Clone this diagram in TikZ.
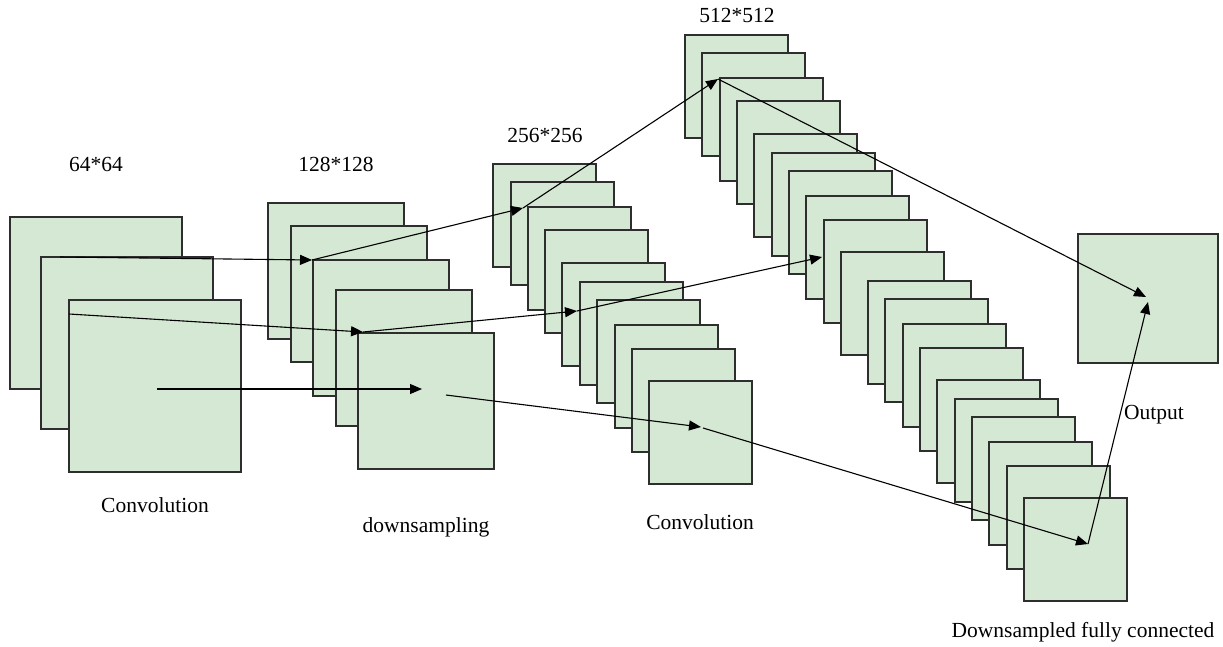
\documentclass[tikz,border=0pt]{standalone}
\usepackage{fontspec}
\setmainfont{Liberation Serif}
\usetikzlibrary{arrows.meta}
\definecolor{mapfill}{HTML}{D5E8D4}
\definecolor{mapline}{HTML}{2E2E2E}
\begin{document}
\begin{tikzpicture}[x=1pt,y=-1pt,
  fmap/.style={draw=mapline,fill=mapfill,line width=1.2pt,anchor=north west,inner sep=0pt,outer sep=0pt},
  bigmap/.style={fmap,minimum width=172pt,minimum height=172pt},
  midmap/.style={fmap,minimum width=136pt,minimum height=136pt},
  smallmap/.style={fmap,minimum width=103pt,minimum height=103pt},
  outmap/.style={fmap,minimum width=140pt,minimum height=129pt},
  conn/.style={line width=1.1pt,-{Triangle[length=12pt,width=10pt]}},
  lbl/.style={font=\fontsize{21.5}{25}\selectfont,anchor=base,inner sep=0pt}]
\useasboundingbox (0,0) rectangle (1223,646);
% column 1
\node[bigmap] (c1a) at (10,217) {};
\node[bigmap] (c1b) at (41,257) {};
\node[bigmap] (c1c) at (69,300) {};
% column 2
\foreach \i/\x/\y in {1/268/203,2/291/226,3/313/260,4/336/290,5/358/333}
  \node[midmap] (c2\i) at (\x,\y) {};
% column 3
\foreach \i/\x/\y in {1/493/164,2/511/182,3/528/207,4/545/230,5/562/263,6/580/282,7/597/300,8/615/325,9/632/349,10/649/381}
  \node[smallmap] (c3n\i) at (\x,\y) {};
% column 4
\foreach \i/\x/\y in {1/685/35,2/702/53,3/720/78,4/737/101,5/754/134,6/772/153,7/789/171,8/806/196,9/824/220,10/841/252,11/868/281,12/885/299,13/903/324,14/920/348,15/937/380,16/955/399,17/972/417,18/989/442,19/1007/466,20/1024/498}
  \node[smallmap] (c4n\i) at (\x,\y) {};
% output
\node[outmap] (out) at (1078,234) {};
% labels
\node[lbl] (l64) at (96,171) {64*64};
\node[lbl] (l128) at (336,171) {128*128};
\node[lbl] (l256) at (545,142) {256*256};
\node[lbl] (l512) at (737,22) {512*512};
\node[lbl] (lconv1) at (155,512) {Convolution};
\node[lbl] (ldown) at (426,532) {downsampling};
\node[lbl] (lconv2) at (700,529) {Convolution};
\node[lbl] (lout) at (1154,419) {Output};
\node[lbl] (ldfc) at (1083,637) {Downsampled fully connected};
% arrow points
\coordinate (a0) at (60,257);
\coordinate (a1) at (312,260);
\coordinate (a2) at (523,208);
\coordinate (a3) at (718,79);
\coordinate (a4) at (1146,297);
\coordinate (b0) at (69,314);
\coordinate (b1) at (363,332);
\coordinate (b2) at (577,311);
\coordinate (b3) at (822,257);
\coordinate (k0) at (157,389);
\coordinate (k1) at (422,389);
\coordinate (k2) at (446,395);
\coordinate (k3) at (701,427);
\coordinate (k4) at (703,428);
\coordinate (k5) at (1088,544);
\coordinate (k6) at (1148,302);
% connectors
\draw[conn] (a0) -- (a1);
\draw[conn] (a1) -- (a2);
\draw[conn] (a2) -- (a3);
\draw[conn] (a3) -- (a4);
\draw[conn] (b0) -- (b1);
\draw[conn] (b1) -- (b2);
\draw[conn] (b2) -- (b3);
\draw[conn] (k0) -- (k1);
\draw[conn] (k2) -- (k3);
\draw[conn] (k4) -- (k5);
\draw[conn] (k5) -- (k6);
\end{tikzpicture}
\end{document}
